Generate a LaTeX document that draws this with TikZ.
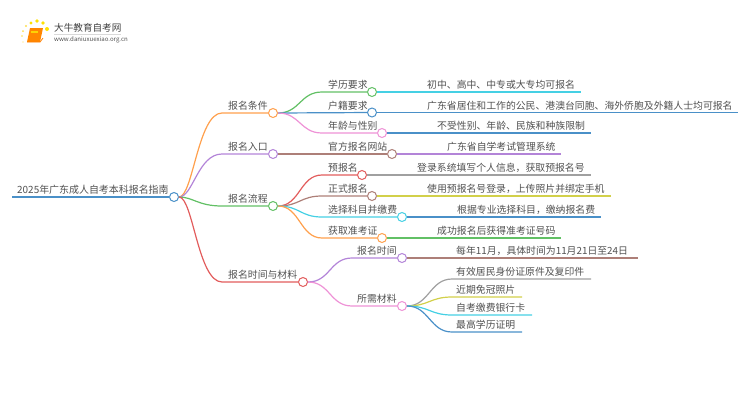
\documentclass[tikz,border=0pt]{standalone}
\usepackage{fontspec}
\setmainfont{Noto Sans CJK SC}
\usepackage{xcolor}
\usetikzlibrary{positioning,calc}
\definecolor{cblue}{HTML}{4A90C8}
\definecolor{corange}{HTML}{FFA04D}
\definecolor{cpurple}{HTML}{B384D8}
\definecolor{cgreen}{HTML}{62C065}
\definecolor{cred}{HTML}{E25C5C}
\definecolor{ccyan}{HTML}{45D0E4}
\definecolor{cpink}{HTML}{EE92D6}
\definecolor{cbrown}{HTML}{AD7F78}
\definecolor{cgrey}{HTML}{A0A0A0}
\definecolor{colive}{HTML}{D2D04A}
\definecolor{ctext}{HTML}{505050}
\begin{document}
\begin{tikzpicture}[x=1pt,y=-1pt,
  hub/.style={circle,draw=#1,fill=white,line width=1pt,minimum size=9pt,inner sep=0pt},
  lbl/.style={anchor=base west,inner sep=0pt,yshift=-.7pt,font=\fontsize{9.85}{10}\selectfont,text=ctext},
  link/.style={draw=#1,line width=1.2pt},
  brand/.style={anchor=base west,inner sep=0pt,text=ctext}]
\useasboundingbox (0,0) rectangle (750,410);
% logo
\fill[yellow!85!orange] (31,23) circle (1.6) (37,21) circle (1.8) (43,23) circle (1.8) (47,29) circle (2);
\fill[yellow!70!orange!70] (26,26) circle (1.2) (23,31) circle (1) (22,36) circle (.8) (23,42) circle (.7);
\fill[orange!95!yellow] (30,28) -- (43,28) -- (40,42) -- (27,42) -- cycle;
\fill[yellow!70!orange] (31,31) rectangle (38,33);
\draw[orange,line width=.8pt] (27,42) -- (40,42) -- (43,38);
\node[brand,font=\fontsize{9.6}{10}\selectfont,text=black!75] (logoname) at (54,31) {大牛教育自考网};
\node[brand,font=\fontsize{6.1}{7}\selectfont] (logourl) at (54,41) {www.daniuxuexiao.org.cn};
\draw[black!15,line width=.5pt] (logoname.south west) ++(0,2) -- ++(67,0);
% root
\node[hub=cblue] (root) at (174,197) {};
\coordinate (rootstart) at (12,197);
\node[lbl,font=\fontsize{9.95}{11}\selectfont] (roottext) at (17,193) {2025年广东成人自考本科报名指南};
\draw[draw=cblue,line width=1.4pt] (rootstart) -- (root);
% first level
\node[hub=corange] (cond) at (273,113) {};
\node[hub=cpurple] (entry) at (273,154) {};
\node[hub=cgreen] (flow) at (273,206) {};
\node[hub=cred] (timemat) at (303,282) {};
\coordinate (condbend) at (222,113);
\coordinate (entrybend) at (222,154);
\coordinate (flowbend) at (222,206);
\coordinate (timematbend) at (222,282);
\draw[link=corange] (root.east) .. controls +(14,0) and +(-24,0) .. (condbend) -- (cond);
\draw[link=cpurple] (root.east) .. controls +(14,0) and +(-24,0) .. (entrybend) -- (entry);
\draw[link=cgreen] (root.east) .. controls +(14,0) and +(-24,0) .. (flowbend) -- (flow);
\draw[link=cred] (root.east) .. controls +(14,0) and +(-24,0) .. (timematbend) -- (timemat);
\node[lbl] (condtext) at (228,109) {报名条件};
\node[lbl] (entrytext) at (228,150) {报名入口};
\node[lbl] (flowtext) at (228,202) {报名流程};
\node[lbl] (timemattext) at (228,278) {报名时间与材料};
% second level
\node[hub=cgreen] (edu) at (372,92) {};
\node[hub=cblue] (huji) at (372,112.5) {};
\node[hub=cpink] (age) at (382,133) {};
\node[hub=cbrown] (site) at (392,154) {};
\node[hub=cred] (pre) at (362,175) {};
\node[hub=cbrown] (formal) at (372,196) {};
\node[hub=ccyan] (pick) at (402,217) {};
\node[hub=corange] (ticket) at (382,238) {};
\node[hub=cpurple] (when) at (402,258) {};
\node[hub=cpink] (need) at (402,306) {};
\coordinate (edubend) at (322,92);
\coordinate (agebend) at (322,133);
\coordinate (prebend) at (322,175);
\coordinate (formalbend) at (322,196);
\coordinate (pickbend) at (322,217);
\coordinate (ticketbend) at (322,238);
\coordinate (whenbend) at (352,258);
\coordinate (needbend) at (352,306);
\draw[link=cgreen] (cond.east) .. controls +(22,0) and +(-22,0) .. (edubend) -- (edu);
\draw[link=cblue] (cond.east) -- (huji);
\draw[link=cpink] (cond.east) .. controls +(22,0) and +(-22,0) .. (agebend) -- (age);
\draw[link=cbrown] (entry) -- (site);
\draw[link=cred] (flow.east) .. controls +(22,0) and +(-22,0) .. (prebend) -- (pre);
\draw[link=cbrown] (flow.east) .. controls +(22,0) and +(-22,0) .. (formalbend) -- (formal);
\draw[link=ccyan] (flow.east) .. controls +(22,0) and +(-22,0) .. (pickbend) -- (pick);
\draw[link=corange] (flow.east) .. controls +(22,0) and +(-22,0) .. (ticketbend) -- (ticket);
\draw[link=cpurple] (timemat.east) .. controls +(22,0) and +(-22,0) .. (whenbend) -- (when);
\draw[link=cpink] (timemat.east) .. controls +(22,0) and +(-22,0) .. (needbend) -- (need);
\node[lbl] (edutext) at (328,88) {学历要求};
\node[lbl] (hujitext) at (328,108.5) {户籍要求};
\node[lbl] (agetext) at (328,129) {年龄与性别};
\node[lbl] (sitetext) at (328,150) {官方报名网站};
\node[lbl] (pretext) at (328,171) {预报名};
\node[lbl] (formaltext) at (328,192) {正式报名};
\node[lbl] (picktext) at (328,213) {选择科目并缴费};
\node[lbl] (tickettext) at (328,234) {获取准考证};
\node[lbl] (whentext) at (357,254) {报名时间};
\node[lbl] (needtext) at (357,302) {所需材料};
% leaves
\coordinate (eduend) at (581,92);
\coordinate (hujiend) at (738,112.5);
\coordinate (ageend) at (591,133);
\coordinate (siteend) at (561,154);
\coordinate (preend) at (591,175);
\coordinate (formalend) at (611,196);
\coordinate (pickend) at (601,217);
\coordinate (ticketend) at (561,238);
\coordinate (whenend) at (638,258);
\draw[link=ccyan] (edu) -- (eduend);
\draw[link=cblue] (huji) -- (hujiend);
\draw[link=cblue] (age) -- (ageend);
\draw[link=cpurple] (site) -- (siteend);
\draw[link=cgrey] (pre) -- (preend);
\draw[link=colive] (formal) -- (formalend);
\draw[link=cblue] (pick) -- (pickend);
\draw[link=cgreen] (ticket) -- (ticketend);
\draw[link=cbrown] (when) -- (whenend);
\node[lbl] (edutip) at (427,88) {初中、高中、中专或大专均可报名};
\node[lbl] (hujitip) at (427,108.5) {广东省居住和工作的公民、港澳台同胞、海外侨胞及外籍人士均可报名};
\node[lbl] (agetip) at (437,129) {不受性别、年龄、民族和种族限制};
\node[lbl] (sitetip) at (447,150) {广东省自学考试管理系统};
\node[lbl] (pretip) at (417,171) {登录系统填写个人信息，获取预报名号};
\node[lbl] (formaltip) at (427,192) {使用预报名号登录，上传照片并绑定手机};
\node[lbl] (picktip) at (457,213) {根据专业选择科目，缴纳报名费};
\node[lbl] (tickettip) at (437,234) {成功报名后获得准考证号码};
\node[lbl] (whentip) at (456,254) {每年11月，具体时间为11月21日至24日};
% materials
\coordinate (idbend) at (452,279);
\coordinate (photobend) at (452,297);
\coordinate (cardbend) at (452,315);
\coordinate (degreebend) at (452,332);
\coordinate (idend) at (591,279);
\coordinate (photoend) at (522,297);
\coordinate (cardend) at (532,315);
\coordinate (degreeend) at (522,332);
\draw[link=cgrey] (need.east) .. controls +(22,0) and +(-22,0) .. (idbend) -- (idend);
\draw[link=colive] (need.east) .. controls +(22,0) and +(-22,0) .. (photobend) -- (photoend);
\draw[link=ccyan] (need.east) .. controls +(22,0) and +(-22,0) .. (cardbend) -- (cardend);
\draw[link=cblue] (need.east) .. controls +(22,0) and +(-22,0) .. (degreebend) -- (degreeend);
\node[lbl] (idtext) at (456,275) {有效居民身份证原件及复印件};
\node[lbl] (phototext) at (456,293) {近期免冠照片};
\node[lbl] (cardtext) at (456,311) {自考缴费银行卡};
\node[lbl] (degreetext) at (456,328) {最高学历证明};
\end{tikzpicture}
\end{document}
